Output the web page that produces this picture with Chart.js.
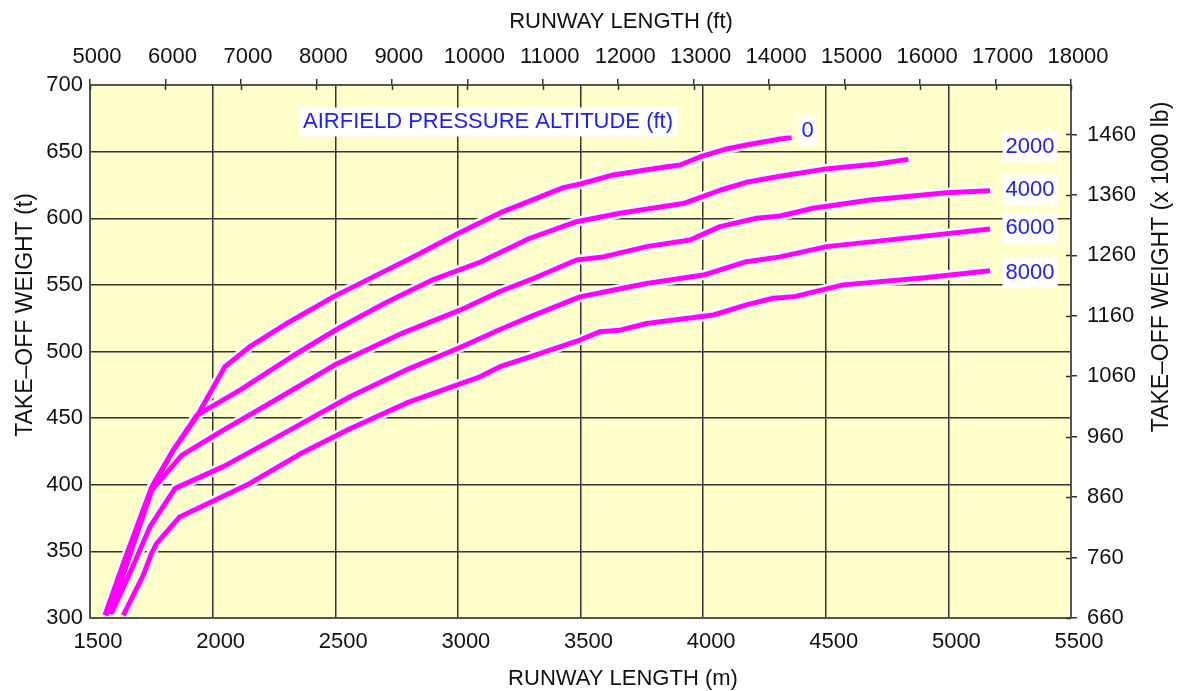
<!DOCTYPE html>
<html><head><meta charset="utf-8">
<script src="https://cdn.jsdelivr.net/npm/chart.js@4/dist/chart.umd.min.js"></script>
<style>html,body{margin:0;padding:0;background:#fff}#wrap{width:1180px;height:691px}</style>
</head><body><div id="wrap"><canvas id="c" width="1180" height="691"></canvas></div>
<script>
// ---- data (runway length in m, take-off weight in t) ----
const altitudeLabels = ['0', '2000', '4000', '6000', '8000'];

const runway0 = [1561,1636,1752,1840,1935,2050,2152,2302,2492,2655,2818,2995,3172,3267,3430,3500,3634,3811,3906,3987,4096,4177,4314,4361];
const weight0 = [302,341,398.5,426,451,488.6,503.6,521,541,556,571,588,604,611,623,625.7,632.5,637.5,640,646,652,655,659.5,660.5];

const runway2000 = [1566,1640,1755,1840,1935,2112,2330,2519,2710,2900,3090,3294,3484,3661,3919,4069,4177,4314,4490,4708,4837];
const weight2000 = [302,341,398.5,426,452,471,497,518,537,554,567,585,597.4,603.7,611,621,627,631.5,636.7,640.7,644.2];

const runway4000 = [1582,1667,1752,1874,2044,2288,2499,2764,3009,3172,3294,3484,3593,3770,3947,4069,4218,4314,4449,4681,4993,5170];
const weight4000 = [303,350,396,422,441,467,490,513,531,545,553.7,568.7,571,578.7,583.7,593.7,600,601.7,607.5,613.7,619.2,620.7];

const runway6000 = [1588,1668,1745,1847,2044,2315,2560,2800,3009,3172,3294,3498,3607,3770,4001,4177,4314,4504,4884,5170];
const weight6000 = [303.5,336,368.5,397.3,413.6,441,466,487,503,516.5,526,541,545,551,557.4,567.4,571,578.7,586.2,592];

const runway8000 = [1636,1717,1751,1772,1864,2152,2356,2560,2800,3090,3172,3294,3498,3580,3661,3770,4042,4177,4286,4368,4572,4884,5170];
const weight8000 = [302,332,348.5,356,375.6,401,423,442,462,481,488.6,496,508.6,514.9,516,521,527.4,535,540,541,550,555,560.6];

// curve label anchors (runway m, weight t)
const labelRunway = [4426, 5333, 5333, 5333, 5333];
const labelWeight = [665.7, 653.7, 621.2, 592.4, 559.1];
const legendTitle = 'AIRFIELD PRESSURE ALTITUDE (ft)';
const legendRunway = 3123;
const legendWeight = 672.2;

// axis ticks
const meterTicks = [1500,2000,2500,3000,3500,4000,4500,5000,5500];
const feetTicks = [5000,6000,7000,8000,9000,10000,11000,12000,13000,14000,15000,16000,17000,18000];
const tonneTicks = [300,350,400,450,500,550,600,650,700];
const poundTicks = [660,760,860,960,1060,1160,1260,1360,1460];

const runways = [runway0, runway2000, runway4000, runway6000, runway8000];
const weights = [weight0, weight2000, weight4000, weight6000, weight8000];

const FONT = '"Liberation Sans", Arial, sans-serif';
const tickFont = {family: FONT, size: 22};
const tickColor = '#111111';
const plain = (v) => String(v);

const datasets = [];
runways.forEach((r, i) => {
  const pts = r.map((m, k) => ({x: m, y: weights[i][k]}));
  datasets.push({label: 'halo ' + altitudeLabels[i], data: pts, borderColor: '#ffffff', borderWidth: 10,
    pointRadius: 0, tension: 0, order: 2, borderJoinStyle: 'round', borderCapStyle: 'butt', xAxisID: 'x', yAxisID: 'y'});
  datasets.push({label: altitudeLabels[i] + ' ft', data: pts, borderColor: '#ff00ff', borderWidth: 5,
    pointRadius: 0, tension: 0, order: 1, borderJoinStyle: 'round', borderCapStyle: 'butt', xAxisID: 'x', yAxisID: 'y'});
});

const bgPlugin = {
  id: 'bg',
  beforeDraw(chart) {
    const {ctx, chartArea: a} = chart;
    ctx.save();
    ctx.fillStyle = '#ffffcc';
    ctx.fillRect(a.left, a.top, a.right - a.left, a.bottom - a.top);
    ctx.restore();
  }
};

function boxedText(ctx, text, x, y, padX, h) {
  const w = ctx.measureText(text).width;
  ctx.fillStyle = '#ffffff';
  ctx.fillRect(x - w / 2 - padX, y - h / 2, w + 2 * padX, h);
  ctx.fillStyle = '#2020ff';
  ctx.fillText(text, x, y);
}

const labelPlugin = {
  id: 'labels',
  afterDatasetsDraw(chart) {
    const {ctx, scales} = chart;
    ctx.save();
    ctx.font = '22px ' + FONT;
    ctx.textAlign = 'center';
    ctx.textBaseline = 'middle';
    altitudeLabels.forEach((t, i) => {
      boxedText(ctx, t, scales.x.getPixelForValue(labelRunway[i]), scales.y.getPixelForValue(labelWeight[i]), 3, 31);
    });
    boxedText(ctx, legendTitle, scales.x.getPixelForValue(legendRunway), scales.y.getPixelForValue(legendWeight), 4, 29);
    ctx.restore();
  }
};

const innerTickPlugin = {
  id: 'innerTicks',
  afterDraw(chart) {
    const {ctx, scales, chartArea: a} = chart;
    ctx.save();
    ctx.strokeStyle = '#333333';
    ctx.lineWidth = 1.5;
    ctx.beginPath();
    scales.x2.ticks.forEach(t => {
      const px = Math.round(scales.x2.getPixelForValue(t.value)) + 0.5;
      ctx.moveTo(px, a.top); ctx.lineTo(px, a.top + 5);
    });
    scales.y2.ticks.forEach(t => {
      const py = Math.round(scales.y2.getPixelForValue(t.value)) + 0.5;
      ctx.moveTo(a.right - 5, py); ctx.lineTo(a.right, py);
    });
    ctx.stroke();
    ctx.restore();
  }
};

const titlePlugin = {
  id: 'titles',
  afterDraw(chart) {
    const {ctx} = chart;
    ctx.save();
    ctx.fillStyle = tickColor;
    ctx.textAlign = 'center';
    ctx.textBaseline = 'middle';
    ctx.font = '22px ' + FONT;
    ctx.fillText('RUNWAY LENGTH (ft)', 621, 22);
    ctx.fillText('RUNWAY LENGTH (m)', 623, 679);
    ctx.font = '23px ' + FONT;
    ctx.save();
    ctx.translate(26, 315);
    ctx.rotate(-Math.PI / 2);
    ctx.fillText('TAKE–OFF WEIGHT (t)', 0, 0);
    ctx.restore();
    ctx.save();
    ctx.translate(1162, 267);
    ctx.rotate(-Math.PI / 2);
    ctx.fillText('TAKE–OFF WEIGHT (x 1000 lb)', 0, 0);
    ctx.restore();
    ctx.restore();
  }
};

const setTicks = (arr) => (s) => { s.ticks = arr.map(v => ({value: v})); };

new Chart(document.getElementById('c'), {
  type: 'line',
  data: {datasets},
  options: {
    responsive: false,
    animation: false,
    devicePixelRatio: 1,
    layout: {padding: 0},
    plugins: {legend: {display: false}, tooltip: {enabled: false}},
    scales: {
      x: {
        type: 'linear', position: 'bottom', min: 1500, max: 5500,
        afterBuildTicks: setTicks(meterTicks),
        afterFit: (s) => { s.height = 73; },
        ticks: {font: tickFont, color: tickColor, padding: 11, labelOffset: 8, maxRotation: 0, autoSkip: false, callback: plain},
        grid: {color: '#333333', lineWidth: 1.5, drawTicks: false},
        border: {display: true, color: '#555555', width: 2}
      },
      x2: {
        type: 'linear', position: 'top', min: 5000, max: 18000,
        afterBuildTicks: setTicks(feetTicks),
        afterFit: (s) => { s.height = 85; },
        ticks: {font: tickFont, color: tickColor, padding: 9, labelOffset: 7, maxRotation: 0, autoSkip: false, callback: plain},
        grid: {drawOnChartArea: false, drawTicks: true, tickLength: 6, color: '#333333', lineWidth: 1.5},
        border: {display: true, color: '#555555', width: 2}
      },
      y: {
        type: 'linear', position: 'left', min: 300, max: 700,
        afterBuildTicks: setTicks(tonneTicks),
        afterFit: (s) => { s.width = 90; },
        ticks: {font: tickFont, color: tickColor, padding: 7, callback: plain},
        grid: {color: '#333333', lineWidth: 1.5, drawTicks: false},
        border: {display: true, color: '#555555', width: 2}
      },
      y2: {
        type: 'linear', position: 'right', min: 660, max: 660 + 400 * 2.20462,
        afterBuildTicks: setTicks(poundTicks),
        afterFit: (s) => { s.width = 109; },
        ticks: {font: tickFont, color: tickColor, padding: 10, callback: plain},
        grid: {drawOnChartArea: false, drawTicks: true, tickLength: 6, color: '#333333', lineWidth: 1.5},
        border: {display: true, color: '#555555', width: 2}
      }
    }
  },
  plugins: [bgPlugin, labelPlugin, innerTickPlugin, titlePlugin]
});
</script>
</body></html>
